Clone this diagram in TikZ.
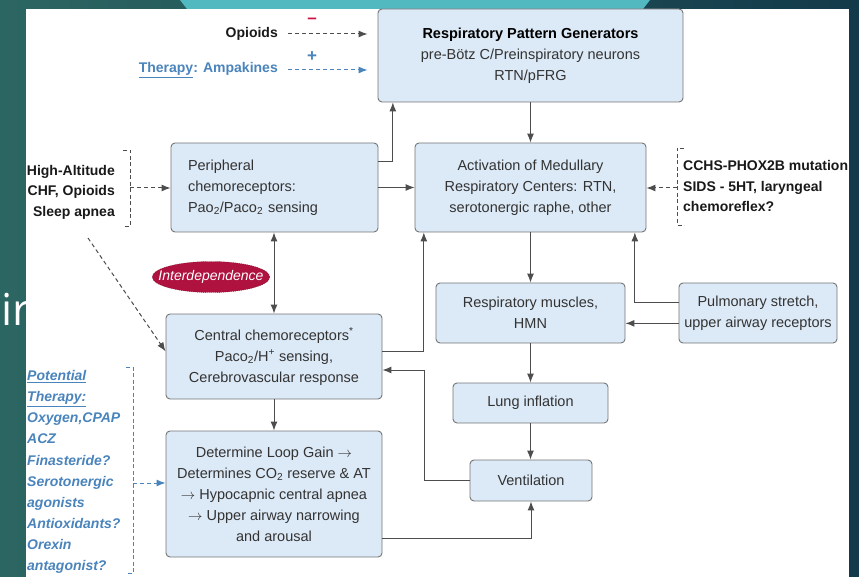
\documentclass[tikz,border=0pt]{standalone}
\usepackage{fontspec}
\setmainfont{Liberation Sans}
\newfontfamily\slidefont{Open Sans}
\usetikzlibrary{arrows.meta,positioning,calc,shapes.geometric}
\definecolor{BoxFill}{HTML}{DCE9F6}
\definecolor{BoxLine}{HTML}{757575}
\definecolor{WireGray}{HTML}{4D4D4D}
\definecolor{TherBlue}{HTML}{4A84BC}
\definecolor{MinusRed}{HTML}{CC1144}
\definecolor{InterRed}{HTML}{B0123F}
\definecolor{SlideTeal}{HTML}{2C6662}
\definecolor{SlideNavy}{HTML}{133A4A}
\definecolor{BandTeal}{HTML}{52B9C1}

\tikzset{
  stage/.style={draw=BoxLine,fill=BoxFill,rounded corners=4pt,line width=0.9pt,
    align=center,text=black!80,font=\fontsize{14.5}{21}\selectfont,inner sep=2pt},
  wire/.style={draw=WireGray,line width=1pt,-{Latex[length=9pt,width=7pt]}},
  hint/.style={wire,dash pattern=on 4pt off 3pt},
  bluehint/.style={hint,draw=TherBlue},
  bracket/.style={draw=WireGray,line width=0.8pt,dash pattern=on 4pt off 2.5pt},
  cause/.style={font=\bfseries\fontsize{14}{20.5}\selectfont,text=black!90,inner sep=2pt},
  sign/.style={font=\bfseries\fontsize{17}{17}\selectfont,inner sep=0},
}

\begin{document}
\begin{tikzpicture}[x=1pt,y=-1pt]
  % slide behind the figure
  \shade[left color=SlideTeal,right color=SlideNavy] (0,0) rectangle (859,577);
  \fill[BandTeal] (180,0) -- (650,0) -- (643,9) -- (187,9) -- cycle;
  \node[white,font=\slidefont\fontsize{44}{44}\selectfont,anchor=base west,inner sep=0] (slidetxt) at (1,325) {ir};
  \fill[white] (26,9) rectangle (849,577);
  \useasboundingbox (0,0) rectangle (859,577);

  % boxes
  \node[stage,minimum width=305pt,minimum height=93pt] (rpg) at (530.5,55.5)
      {\textcolor{black}{\textbf{Respiratory Pattern Generators}}\\pre-Bötz C/Preinspiratory neurons\\RTN/pFRG};
  \node[stage,align=left,text width=173pt,minimum width=207pt,minimum height=89pt] (peri) at (274.5,187.5)
      {Peripheral\\chemoreceptors:\\Pao\textsubscript{2}/Paco\textsubscript{2} sensing};
  \node[stage,minimum width=231pt,minimum height=89pt] (act) at (530.5,187.5)
      {Activation of Medullary\\Respiratory Centers: RTN,\\serotonergic raphe, other};
  \node[stage,minimum width=189pt,minimum height=60pt] (musc) at (530.5,313)
      {Respiratory muscles,\\HMN};
  \node[stage,minimum width=158pt,minimum height=60pt] (pulm) at (758,313)
      {Pulmonary stretch,\\upper airway receptors};
  \node[stage,minimum width=155pt,minimum height=40pt] (lung) at (530.5,403) {Lung inflation};
  \node[stage,minimum width=122pt,minimum height=41pt] (vent) at (531,480.5) {Ventilation};
  \node[stage,minimum width=216pt,minimum height=85pt] (cent) at (274,356.5)
      {Central chemoreceptors\textsuperscript{*}\\Paco\textsubscript{2}/H\textsuperscript{+} sensing,\\Cerebrovascular response};
  \node[stage,minimum width=216pt,minimum height=126pt] (loop) at (274,494)
      {Determine Loop Gain $\rightarrow$\\Determines CO\textsubscript{2} reserve \& AT\\$\rightarrow$ Hypocapnic central apnea\\$\rightarrow$ Upper airway narrowing\\and arousal};
  \node[ellipse,fill=InterRed,draw=InterRed!70!black,dash pattern=on 1pt off 1pt,
      inner xsep=-11pt,inner ysep=2pt,minimum height=31pt,text=white,
      font=\itshape\fontsize{14}{14}\selectfont] (inter) at (211,277) {Interdependence};

  % main loop
  \draw[wire] (rpg.south) -- (act.north);
  \draw[wire] (act.south) -- (musc.north);
  \draw[wire] (musc.south) -- (lung.north);
  \draw[wire] (lung.south) -- (lung.south |- vent.north);
  \draw[wire] (peri.east) -- (act.west);
  \draw[wire] ($(peri.north east)!.21!(peri.south east)$) -| ($(rpg.south west)!.05!(rpg.south east)$);
  \draw[wire] ($(pulm.north west)!.33!(pulm.south west)$) -| ($(act.south west)!.95!(act.south east)$);
  \draw[wire] ($(pulm.north west)!.67!(pulm.south west)$) coordinate (pq) -- (pq -| musc.east);
  \draw[wire] ($(cent.north east)!.44!(cent.south east)$) -| ($(act.south west)!.04!(act.south east)$);
  \coordinate (ret) at (424,370);
  \draw[wire] (vent.west) -| (ret) -- (ret -| cent.east);
  \draw[wire] ($(loop.north east)!.85!(loop.south east)$) -| (vent.south);
  \draw[wire] (cent.south) -- (loop.north);
  \draw[wire,{Latex[length=9pt,width=7pt]}-{Latex[length=9pt,width=7pt]}] (cent.north) -- (cent.north |- peri.south);

  % modulators on the pattern generators
  \node[cause,anchor=east] (opi) at (280,34) {Opioids};
  \draw[hint,shorten <=8pt,shorten >=10pt] (opi.east) -- (opi.east -| rpg.west)
      node[sign,pos=.33,yshift=13pt,text=MinusRed] {--};
  \node[cause,text=TherBlue,anchor=east] (amp) at (280,70) {\underline{Therapy}: Ampakines};
  \draw[bluehint,shorten <=8pt,shorten >=10pt] (amp.east) -- (amp.east -| rpg.west)
      node[sign,pos=.33,yshift=13pt,text=TherBlue] {+};

  % left causes
  \node[cause,align=right,anchor=east] (alt) at (117,192) {High-Altitude\\CHF, Opioids\\Sleep apnea};
  \draw[bracket] (123,150) -- (130,150) -- (130,226) -- (123,226);
  \coordinate (altb) at (130,188);
  \draw[hint] (altb) -- (altb -| peri.west);
  \coordinate (altd) at (88,238);
  \draw[hint] (altd) -- ($(cent.north west)!.44!(cent.south west)$);

  % right causes
  \node[cause,align=left,anchor=west] (cchs) at (681,186) {CCHS-PHOX2B mutation\\SIDS - 5HT, laryngeal\\chemoreflex?};
  \draw[bracket] (684,148) -- (677,148) -- (677,225) -- (684,225);
  \coordinate (cchsb) at (677,188);
  \draw[hint] (cchsb) -- (cchsb -| act.east);

  % therapy list
  \node[font=\bfseries\itshape\fontsize{14}{21.1}\selectfont,text=TherBlue,align=left,anchor=west,inner sep=0] (ther) at (27,472)
      {\underline{Potential}\\\underline{Therapy:}\\Oxygen,CPAP\\ACZ\\Finasteride?\\Serotonergic\\agonists\\Antioxidants?\\Orexin\\antagonist?};
  \draw[bracket,draw=TherBlue] (126,367) -- (133,367) -- (133,573) -- (126,573);
  \coordinate (therb) at (133,483);
  \draw[bluehint] (therb) -- (therb -| loop.west);
\end{tikzpicture}
\end{document}
